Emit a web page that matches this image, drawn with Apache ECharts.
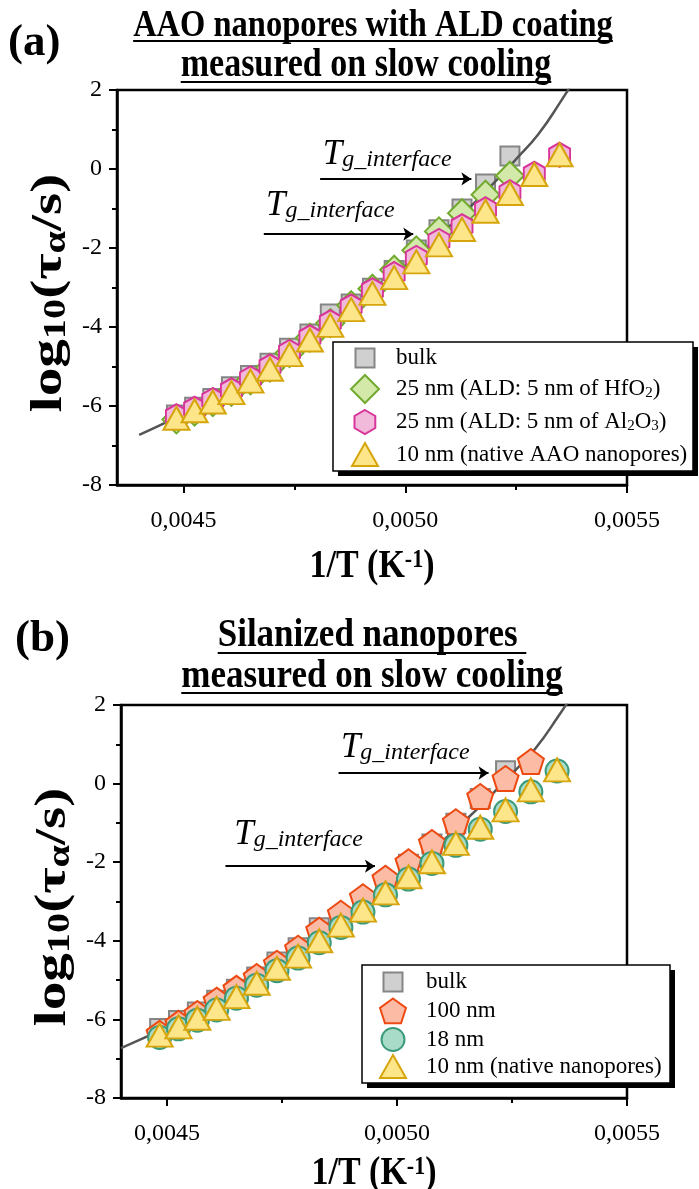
<!DOCTYPE html>
<html><head><meta charset="utf-8">
<script src="https://cdn.jsdelivr.net/npm/echarts@6/dist/echarts.min.js"></script>
<style>html,body{margin:0;padding:0;background:#fff}#c{width:699px;height:1189px}</style>
</head><body><div id="c"></div><script>
// ---- data (x = 1/T in K^-1, y = log10(tau/s)) ----
const invT = [0.004484,0.004525,0.004566,0.004608,0.004651,0.004695,0.004739,0.004785,0.004831,0.004878,0.004926,0.004975,0.005025,0.005076,0.005128,0.005181,0.005236,0.005291,0.005348];
// panel (a)
const bulkA  = [-6.23,-6.03,-5.81,-5.51,-5.23,-4.92,-4.54,-4.18,-3.67,-3.42,-3.02,-2.57,-2.05,-1.54,-1.01,-0.38,0.33];
const hfo2A  = [-6.34,-6.14,-5.90,-5.64,-5.35,-5.03,-4.66,-4.27,-3.90,-3.45,-3.03,-2.55,-2.06,-1.58,-1.12,-0.65,-0.17];
const al2o3A = [-6.26,-6.07,-5.85,-5.60,-5.30,-5.00,-4.63,-4.26,-3.88,-3.48,-3.07,-2.66,-2.25,-1.82,-1.45,-1.02,-0.59,-0.12,0.36];
const nat10A = [-6.31,-6.12,-5.90,-5.66,-5.37,-5.07,-4.70,-4.33,-3.96,-3.56,-3.15,-2.75,-2.35,-1.92,-1.53,-1.07,-0.62,-0.14,0.36];
// panel (b)
const bulkB  = [-6.23,-6.03,-5.81,-5.51,-5.23,-4.92,-4.54,-4.18,-3.67,-3.42,-3.02,-2.57,-2.05,-1.54,-1.01,-0.38,0.33];
const nm100B = [-6.35,-6.10,-5.85,-5.51,-5.21,-4.91,-4.57,-4.19,-3.73,-3.30,-2.88,-2.41,-1.99,-1.50,-0.97,-0.33,0.13,0.56];
const nm18B  = [-6.46,-6.24,-6.02,-5.76,-5.46,-5.13,-4.76,-4.44,-4.05,-3.66,-3.27,-2.83,-2.43,-2.03,-1.57,-1.16,-0.71,-0.21,0.32];
const nat10B = [-6.40,-6.19,-5.97,-5.72,-5.42,-5.08,-4.70,-4.39,-4.00,-3.60,-3.22,-2.78,-2.37,-1.99,-1.52,-1.11,-0.67,-0.16,0.35];
// bulk VFT fit curve
const fitX = [0.00440,0.00445,0.00450,0.00455,0.00460,0.00465,0.00470,0.00475,0.00480,0.00485,0.00490,0.00495,0.00500,0.00505,0.00510,0.00515,0.00520,0.00525,0.00530,0.00535,0.00540];
const fitY = [-6.73,-6.47,-6.20,-5.92,-5.62,-5.30,-4.95,-4.59,-4.20,-3.80,-3.38,-2.93,-2.45,-1.96,-1.45,-0.92,-0.35,0.25,0.88,1.70,2.60];
// axis ticks
const xMajor = [0.0045,0.0050,0.0055];
const xMinor = [0.00475,0.00525];
// T_g_interface annotations: [arrow x start, arrow x end, arrow y, label x, label y]
const annA = [[0.004808,0.005149,-0.25,0.004814,-0.08],[0.004681,0.005018,-1.65,0.004686,-1.37]];
const annB = [[0.004873,0.005199,0.27,0.004878,0.47],[0.004627,0.004952,-2.10,0.004646,-1.74]];

const FF = '"Liberation Serif","Times New Roman",serif';
const pair = (ys) => ys.map((y,i)=>[invT[i],y]);
const fitData = fitX.map((x,i)=>[x,fitY[i]]);
const HEX = 'path://M0,-1L0.866,-0.5L0.866,0.5L0,1L-0.866,0.5L-0.866,-0.5Z';
const PENT = 'path://M0,-1L0.951,-0.309L0.588,0.809L-0.588,0.809L-0.951,-0.309Z';

const styles = {
  bulk: {symbol:'rect', size:[19,19], fill:'#d0d0d0', stroke:'#858585'},
  hfo2: {symbol:'diamond', size:[28,28], fill:'#d3e9a9', stroke:'#72aa30'},
  al2o3:{symbol:HEX, size:[21,24], fill:'#f1b9da', stroke:'#d8359a'},
  nat:  {symbol:'triangle', size:[26,23], fill:'#fde58a', stroke:'#d6a50c'},
  nm100:{symbol:PENT, size:[26,25], fill:'#fbbba5', stroke:'#ec4a12'},
  nm18: {symbol:'circle', size:[23,23], fill:'#a9dcc8', stroke:'#3b9a7c'}
};
const NAMES = {
  bulkA:'bulk', hfo2:'25 nm (ALD: 5 nm of HfO2)', al2o3:'25 nm (ALD: 5 nm of Al2O3)', natA:'10 nm (native AAO nanopores)',
  nm100:'100 nm', nm18:'18 nm', natB:'10 nm (native nanopores)'
};
function scat(name, st, data, xi, yi, z){
  return {type:'scatter', name, xAxisIndex:xi, yAxisIndex:yi, data, symbol:st.symbol, symbolSize:st.size,
    itemStyle:{color:st.fill, borderColor:st.stroke, borderWidth:2, opacity:1}, z, animation:false, emphasis:{disabled:true}};
}
function fitSeries(xi, yi, ann){
  return {type:'line', name:'fit', xAxisIndex:xi, yAxisIndex:yi, data:fitData, showSymbol:false, smooth:true,
    lineStyle:{color:'#555555', width:2.5}, z:3, animation:false, silent:true,
    markLine:{silent:true, animation:false, symbol:['none','arrow'], symbolSize:10,
      lineStyle:{color:'#000', width:1.8, type:'solid'}, label:{show:false},
      data: ann.map(a=>[{coord:[a[0],a[2]]},{coord:[a[1],a[2]]}])},
    markPoint:{silent:true, animation:false, symbol:'circle', symbolSize:0,
      label:{show:true, position:[0,0], align:'left', verticalAlign:'bottom', color:'#000',
        formatter:'{T|T}{s|g_interface}',
        rich:{T:{fontFamily:FF, fontStyle:'italic', fontSize:35, lineHeight:34, color:'#000'},
              s:{fontFamily:FF, fontStyle:'italic', fontSize:24, lineHeight:12, verticalAlign:'bottom', color:'#000'}}},
      data: ann.map(a=>({coord:[a[3],a[4]], value:0}))}
  };
}
const tickFmt = v => v.toFixed(4).replace('.', ',');
function xAxes(gi, min){
  return [
    {type:'value', gridIndex:gi, min, max:0.0055, position:'bottom',
     axisLine:{show:true, onZero:false, lineStyle:{color:'#000', width:2.5}},
     axisTick:{show:true, inside:false, length:8, customValues:xMajor, lineStyle:{color:'#000', width:2}},
     axisLabel:{customValues:xMajor, formatter:tickFmt, color:'#000', fontFamily:FF, fontSize:24, margin:24},
     splitLine:{show:false}},
    {type:'value', gridIndex:gi, min, max:0.0055, position:'bottom',
     axisLine:{show:false, onZero:false}, axisLabel:{show:false}, splitLine:{show:false},
     axisTick:{show:true, inside:false, length:5, customValues:xMinor, lineStyle:{color:'#000', width:2}}}
  ];
}
function yAxis(gi){
  return {type:'value', gridIndex:gi, min:-8, max:2, interval:2,
    axisLine:{show:true, onZero:false, lineStyle:{color:'#000', width:2.5}},
    axisTick:{show:true, inside:false, length:8, lineStyle:{color:'#000', width:2}},
    minorTick:{show:true, splitNumber:2, length:5, lineStyle:{color:'#000', width:2}},
    axisLabel:{color:'#000', fontFamily:FF, fontSize:24, margin:15},
    splitLine:{show:false}, minorSplitLine:{show:false}};
}
const richLegend = {
  n:{fontFamily:FF, fontSize:23, color:'#000', lineHeight:24},
  s:{fontFamily:FF, fontSize:15, color:'#000', lineHeight:10, verticalAlign:'bottom'}
};
function legendFmt(name){
  if (name.indexOf('HfO2')>=0) return '{n|25 nm (ALD: 5 nm of HfO}{s|2}{n|)}';
  if (name.indexOf('Al2O3')>=0) return '{n|25 nm (ALD: 5 nm of Al}{s|2}{n|O}{s|3}{n|)}';
  return '{n|'+name+'}';
}
function legendItem(name, st, cx, cy, tx){
  const w = st.size[0], h = st.size[1];
  const H = Math.max(h, 24);
  return {show:true, data:[name], left:cx - w/2, top:cy - H/2, orient:'horizontal', itemWidth:w, itemHeight:h,
    padding:0, itemGap:0, selectedMode:false, z:20, formatter:legendFmt, icon:st.symbol,
    itemStyle:{color:st.fill, borderColor:st.stroke, borderWidth:2},
    textStyle:{fontFamily:FF, fontSize:23, color:'#000', lineHeight:24, padding:[0,0,0, tx - (cx + w/2) - 5], rich:richLegend}};
}
const legends = [
  legendItem(NAMES.bulkA, styles.bulk, 364, 358, 395),
  legendItem(NAMES.hfo2, styles.hfo2, 364, 388, 395),
  legendItem(NAMES.al2o3, styles.al2o3, 364, 421, 395),
  legendItem(NAMES.natA, styles.nat, 364, 454, 395),
  legendItem(NAMES.bulkA, styles.bulk, 392, 982, 425),
  legendItem(NAMES.nm100, styles.nm100, 392, 1010, 425),
  legendItem(NAMES.nm18, styles.nm18, 392, 1039, 425),
  legendItem(NAMES.natB, styles.nat, 392, 1066, 425)
];

const series = [
  scat(NAMES.bulkA, styles.bulk, pair(bulkA), 0, 0, 2),
  fitSeries(0, 0, annA),
  scat(NAMES.hfo2, styles.hfo2, pair(hfo2A), 0, 0, 4),
  scat(NAMES.al2o3, styles.al2o3, pair(al2o3A), 0, 0, 5),
  scat(NAMES.natA, styles.nat, pair(nat10A), 0, 0, 6),
  scat(NAMES.bulkA, styles.bulk, pair(bulkB), 2, 1, 2),
  fitSeries(2, 1, annB),
  scat(NAMES.nm100, styles.nm100, pair(nm100B), 2, 1, 4),
  scat(NAMES.nm18, styles.nm18, pair(nm18B), 2, 1, 5),
  scat(NAMES.natB, styles.nat, pair(nat10B), 2, 1, 6)
];

// titles (underline length measured from the text width)
const cvs = document.createElement('canvas').getContext('2d');
function tw(text, font){ cvs.font = font; return cvs.measureText(text).width; }
function titleLine(text, size, cx, midY, ulY){
  const font = 'bold ' + size + 'px "Liberation Serif"';
  const w = tw(text, font);
  return [
    {type:'text', x:cx, y:midY, scaleY:1.15, z:30,
     style:{text, font, fill:'#000', align:'center', verticalAlign:'middle', textAlign:'center', textVerticalAlign:'middle'}},
    {type:'line', z:30, shape:{x1:cx - w/2, y1:ulY, x2:cx + w/2, y2:ulY}, style:{stroke:'#000', lineWidth:2}}
  ];
}
function legendBox(x, y, w, h){
  return [
    {type:'rect', z:14, shape:{x:x+5, y:y+5, width:w, height:h}, style:{fill:'#000'}},
    {type:'rect', z:15, shape:{x, y, width:w, height:h}, style:{fill:'#fff', stroke:'#000', lineWidth:1.5}}
  ];
}
const yTitleRich = {
  a:{fontFamily:FF, fontWeight:'bold', fontSize:44, lineHeight:44, fill:'#000', color:'#000'},
  s:{fontFamily:FF, fontWeight:'bold', fontSize:31, lineHeight:12, verticalAlign:'bottom', fill:'#000', color:'#000'}
};
const xTitleRich = {
  a:{fontFamily:FF, fontWeight:'bold', fontSize:34, lineHeight:34, fill:'#000', color:'#000'},
  p:{fontFamily:FF, fontWeight:'bold', fontSize:22, lineHeight:12, verticalAlign:'top', fill:'#000', color:'#000'}
};
function yTitle(cx, cy){
  return {type:'text', x:cx, y:cy, rotation:Math.PI/2, scaleX:1.3, scaleY:1, z:30,
    style:{text:'{a|log}{s|10}{a|(τ}{s|α}{a|/s)}', rich:yTitleRich, fill:'#000',
      align:'center', verticalAlign:'middle', textAlign:'center', textVerticalAlign:'middle'}};
}
function xTitle(cx, cy){
  return {type:'text', x:cx, y:cy, scaleY:1.18, z:30,
    style:{text:'{a|1/T (K}{p|-1}{a|)}', rich:xTitleRich, fill:'#000',
      align:'center', verticalAlign:'middle', textAlign:'center', textVerticalAlign:'middle'}};
}
const graphics = [].concat(
  titleLine('AAO nanopores with ALD coating', 32.5, 373, 26, 41),
  titleLine('measured on slow cooling', 34, 366, 65.5, 82),
  titleLine('Silanized nanopores ', 35, 372, 636, 653),
  titleLine('measured on slow cooling', 35, 372, 677, 693),
  [{type:'text', left:8, top:21, z:30, style:{text:'(a)', font:'bold 45px "Liberation Serif"', fill:'#000'}},
   {type:'text', left:15, top:617, z:30, style:{text:'(b)', font:'bold 45px "Liberation Serif"', fill:'#000'}},
   yTitle(50, 293), yTitle(54, 907), xTitle(372, 567), xTitle(374, 1174)],
  legendBox(333, 342, 360, 129),
  legendBox(362, 965, 308, 118)
);

const chart = echarts.init(document.getElementById('c'), null, {renderer:'canvas', width:699, height:1189});
chart.setOption({
  animation:false,
  backgroundColor:'#fff',
  grid:[{left:117, top:90, width:510, height:395, show:true, borderColor:'#000', borderWidth:2.5, backgroundColor:'transparent', containLabel:false, outerBoundsMode:'none'},
        {left:121, top:705, width:506, height:393, show:true, borderColor:'#000', borderWidth:2.5, backgroundColor:'transparent', containLabel:false, outerBoundsMode:'none'}],
  xAxis:[].concat(xAxes(0, 0.00435), xAxes(1, 0.0044)),
  yAxis:[yAxis(0), yAxis(1)],
  legend:legends,
  series,
  graphic:graphics
});
</script></body></html>
